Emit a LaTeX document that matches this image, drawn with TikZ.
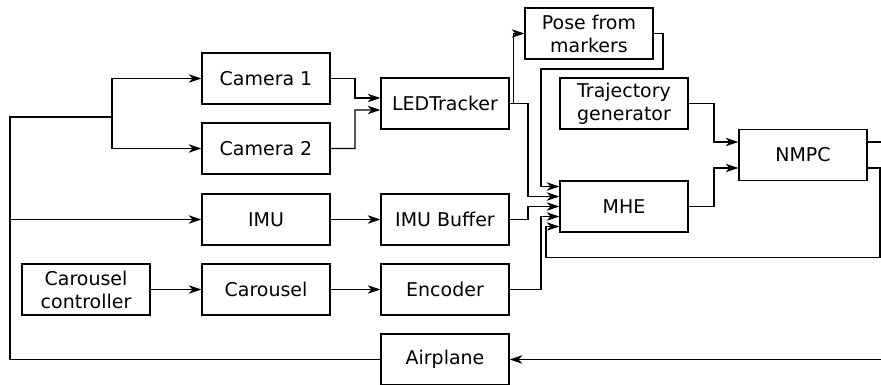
\documentclass[tikz,border=0pt]{standalone}
\usepackage{fontspec}
\setmainfont{DejaVu Sans}
\usetikzlibrary{arrows.meta,calc}
\begin{document}
\begin{tikzpicture}[x=0.025cm, y=-0.025cm,
    blok/.style={draw, line width=1pt, minimum width=3.2cm, minimum height=1.275cm,
                 inner sep=0pt, align=center, font=\fontsize{13.5}{16.4}\selectfont},
    panah/.style={line width=0.75pt, -{Stealth[length=9pt,width=6pt,inset=2.8pt]}},
    garis/.style={line width=0.75pt}]
    \useasboundingbox (0,0) rectangle (881,385);

    % Blok sensor
    \node[blok] (cam1) at (266,78.5) {Camera 1};
    \node[blok] (cam2) at (266,148.5) {Camera 2};
    \node[blok] (imu) at (266,219.5) {IMU};
    \node[blok] (carctl) at (86,289.5) {Carousel\\controller};
    \node[blok] (carousel) at (266,289.5) {Carousel};

    % Blok pemrosesan
    \node[blok] (led) at (445,103.5) {LEDTracker};
    \node[blok] (imubuf) at (445,219.5) {IMU Buffer};
    \node[blok] (enc) at (445,289.5) {Encoder};
    \node[blok] (airplane) at (445,359.5) {Airplane};
    \node[blok] (pose) at (589,33.5) {Pose from\\markers};
    \node[blok] (traj) at (624,103.5) {Trajectory\\generator};
    \node[blok] (mhe) at (624,206.5) {MHE};
    \node[blok] (nmpc) at (803,155) {NMPC};

    % Umpan balik dari pesawat
    \coordinate (fb) at (10,117);
    \coordinate (split) at (112,117);
    \draw[garis] (airplane.west) -| (fb) -- (split);
    \draw[panah] (split) |- (cam1.west);
    \draw[panah] (split) |- (cam2.west);
    \draw[panah] (fb |- imu.west) -- (imu.west);

    % Panah antar blok
    \draw[panah] (cam1.east) -| (355,98) -- ($(led.west)+(0,-5.5)$);
    \draw[panah] (cam2.east) -| (355,110) -- ($(led.west)+(0,6.5)$);
    \draw[panah] (imu) -- (imubuf);
    \draw[panah] (carctl) -- (carousel);
    \draw[panah] (carousel) -- (enc);
    \draw[panah] (led.east) -- ++(4,0) |- (pose.west);

    % Masukan MHE
    \draw[panah] (pose.east) -| (663,69) -| (541,186.5) -- ($(mhe.west)+(0,-20)$);
    \draw[panah] (led.east) -| (528,196.5) -- ($(mhe.west)+(0,-10)$);
    \draw[panah] (imubuf.east) -| (528,206.5) -- (mhe.west);
    \draw[panah] (enc.east) -| (541,216.5) -- ($(mhe.west)+(0,10)$);
    \draw[panah] ($(nmpc.east)+(0,13)$) -| (880,257.5) -| (546,226.5) -- ($(mhe.west)+(0,20)$);

    % Masukan NMPC
    \draw[panah] (traj.east) -| (714,142) -- ($(nmpc.west)+(0,-13)$);
    \draw[panah] (mhe.east) -| (714,168) -- ($(nmpc.west)+(0,13)$);
    \draw[panah] ($(nmpc.east)+(0,-13)$) -- (900,142) |- (airplane.east);
\end{tikzpicture}
\end{document}
